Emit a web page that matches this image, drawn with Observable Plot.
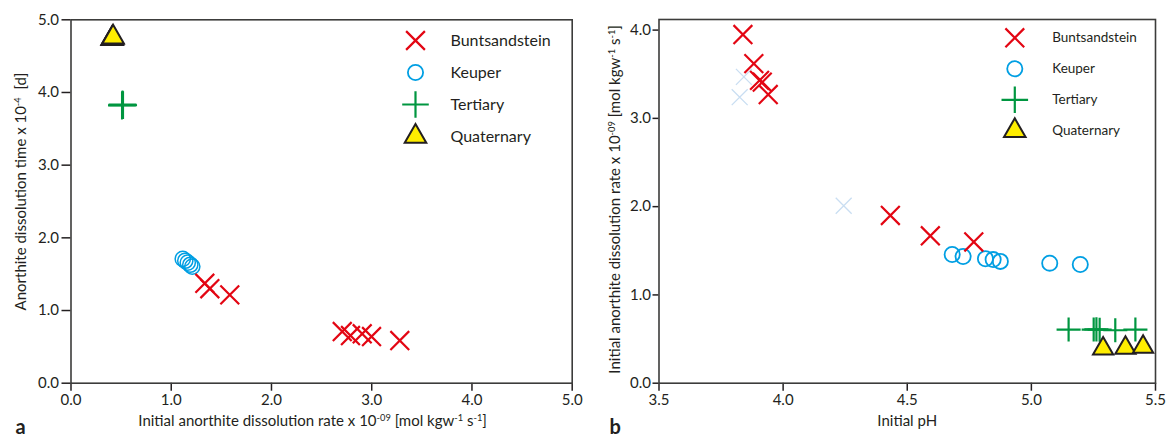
<!DOCTYPE html>
<html><head><meta charset="utf-8">
<script src="https://cdn.jsdelivr.net/npm/d3@7"></script>
<script src="https://cdn.jsdelivr.net/npm/@observablehq/plot@0.6"></script>
<style>
body{margin:0;background:#fff;}
#wrap{position:relative;width:1167px;height:439px;overflow:hidden;font-family:Lato, sans-serif;}
#a,#b{position:absolute;top:0;}
#a{left:0px}
#b{left:590px}
</style></head><body><div id="wrap"><div id="a"></div><div id="b"></div></div>
<script>
// ---------- Panel a data: initial rate (x) vs dissolution time (y) ----------
const buntRateA = [1.335, 1.385, 1.584, 2.706, 2.788, 2.905, 2.998, 3.28];
const buntTimeA = [1.375, 1.30, 1.216, 0.711, 0.656, 0.68, 0.642, 0.587];
const keupRateA = [1.115, 1.14, 1.165, 1.19, 1.21];
const keupTimeA = [1.71, 1.685, 1.66, 1.63, 1.605];
const tertRateA = [0.508, 0.514, 0.52, 0.512];
const tertTimeA = [3.82, 3.835, 3.825, 3.83];
const quatRateA = [0.41, 0.415, 0.42];
const quatTimeA = [4.74, 4.75, 4.76];

// ---------- Panel b data: initial pH (x) vs initial rate (y) ----------
const buntPhB   = [3.838, 3.882, 3.905, 3.916, 3.94, 4.432, 4.593, 4.768];
const buntRateB = [3.95, 3.62, 3.43, 3.41, 3.27, 1.90, 1.67, 1.60];
const fadedPhB   = [3.842, 3.825, 4.244];
const fadedRateB = [3.47, 3.24, 2.01];
const keupPhB   = [4.681, 4.725, 4.815, 4.846, 4.875, 5.074, 5.197];
const keupRateB = [1.458, 1.435, 1.41, 1.40, 1.38, 1.36, 1.345];
const tertPhB   = [5.15, 5.251, 5.262, 5.275, 5.338, 5.419];
const tertRateB = [0.608, 0.608, 0.61, 0.606, 0.60, 0.608];
const quatPhB   = [5.289, 5.379, 5.45];
const quatRateB = [0.39, 0.40, 0.41];

// ---------- ticks, labels, legend ----------
const ticksA = [0, 1, 2, 3, 4, 5];
const ticksBx = [3.5, 4.0, 4.5, 5.0, 5.5];
const ticksBy = [0, 1, 2, 3, 4];
const labelAx = "Initial anorthite dissolution rate x 10^{-09} [mol kgw^{-1} s^{-1}]";
const labelAy = "Anorthite dissolution time x 10^{-4}  [d]";
const labelBx = "Initial pH";
const labelBy = "Initial anorthite dissolution rate x 10^{-09} [mol kgw^{-1} s^{-1}]";
const legendNames = ["Buntsandstein", "Keuper", "Tertiary", "Quaternary"];

const RED = "#e30613", BLUE = "#009fe3", GREEN = "#009640", YELLOW = "#ffed00", INK = "#231f20", FADED = "#c9def2";
const FONT = "Lato, sans-serif";

const pts = (xs, ys) => xs.map((x, i) => ({x, y: ys[i]}));

const styleOf = {
  Buntsandstein: {symbol: "times", stroke: RED, fill: "none", strokeWidth: 2.2, r: 8.6},
  Keuper: {symbol: "circle", stroke: BLUE, fill: "none", strokeWidth: 1.8, r: 7.6},
  Tertiary: {symbol: "plus", stroke: GREEN, fill: "none", strokeWidth: 2.2, r: 8.6},
  Quaternary: {symbol: "triangle", stroke: INK, fill: YELLOW, strokeWidth: 2, r: 8}
};

function legendMarks(dxSym, dxText, dy0, step, fontSize) {
  return legendNames.flatMap((name, i) => {
    const s = styleOf[name];
    return [
      Plot.dot([name], {frameAnchor: "top-left", dx: dxSym, dy: dy0 + i * step, symbol: s.symbol,
        stroke: s.stroke, fill: s.fill, strokeWidth: s.strokeWidth, r: s.r}),
      Plot.text([name], {frameAnchor: "top-left", dx: dxText, dy: dy0 + i * step, textAnchor: "start",
        lineAnchor: "middle", fontSize, fill: INK})
    ];
  });
}

const fmt = d3.format(".1f");

const chartA = Plot.plot({
  width: 590, height: 439,
  marginLeft: 70.5, marginRight: 18.3, marginTop: 19.3, marginBottom: 56.3,
  style: {fontFamily: FONT, fontSize: "15px", color: INK, background: "white", overflow: "visible"},
  x: {domain: [0, 5]},
  y: {domain: [0, 5]},
  marks: [
    Plot.axisX({ticks: ticksA, tickFormat: fmt, tickSize: 8, tickPadding: 3, label: null, strokeWidth: 1.5, fontSize: 15}),
    Plot.axisY({ticks: ticksA, tickFormat: fmt, tickSize: 9, tickPadding: 3, label: null, strokeWidth: 1.5, fontSize: 15}),
    Plot.frame({stroke: "#3c3c3b", strokeWidth: 1.6}),
    Plot.dot(pts(quatRateA, quatTimeA), {x: "x", y: "y", ...styleOf.Quaternary}),
    Plot.dot(pts(tertRateA, tertTimeA), {x: "x", y: "y", ...styleOf.Tertiary, strokeWidth: 1.9, r: 9}),
    Plot.dot(pts(keupRateA, keupTimeA), {x: "x", y: "y", ...styleOf.Keuper, strokeWidth: 1.5}),
    Plot.dot(pts(buntRateA, buntTimeA), {x: "x", y: "y", ...styleOf.Buntsandstein}),
    ...legendMarks(344.5, 379.5, 20.7, 32, 16),
    Plot.text([labelAx], {frameAnchor: "bottom", lineAnchor: "middle", textAnchor: "middle", dx: -9, dy: 38, fontSize: 15, fill: INK}),
    Plot.text([labelAy], {frameAnchor: "left", lineAnchor: "middle", textAnchor: "middle", rotate: -90, dx: -50, dy: -10, fontSize: 15, fill: INK}),
    Plot.text(["a"], {frameAnchor: "bottom-left", lineAnchor: "middle", textAnchor: "start", dx: -55.5, dy: 44, fontSize: 20, fontWeight: "bold", fill: INK})
  ]
});

const chartB = Plot.plot({
  width: 577, height: 439,
  marginLeft: 68.5, marginRight: 12, marginTop: 19, marginBottom: 56.3,
  style: {fontFamily: FONT, fontSize: "15px", color: INK, background: "white", overflow: "visible"},
  x: {domain: [3.5, 5.5]},
  y: {domain: [0, 4.12]},
  marks: [
    Plot.axisX({ticks: ticksBx, tickFormat: fmt, tickSize: 8, tickPadding: 3, label: null, strokeWidth: 1.5, fontSize: 15}),
    Plot.axisY({ticks: ticksBy, tickFormat: fmt, tickSize: 6, tickPadding: 2, label: null, strokeWidth: 1.5, fontSize: 15}),
    Plot.frame({stroke: "#3c3c3b", strokeWidth: 1.6}),
    Plot.dot(pts(fadedPhB, fadedRateB), {x: "x", y: "y", symbol: "times", stroke: FADED, strokeWidth: 1.3, r: 7.3}),
    Plot.dot(pts(keupPhB, keupRateB), {x: "x", y: "y", ...styleOf.Keuper}),
    Plot.dot(pts(tertPhB, tertRateB), {x: "x", y: "y", ...styleOf.Tertiary, r: 7.8}),
    Plot.dot(pts(quatPhB, quatRateB), {x: "x", y: "y", ...styleOf.Quaternary, r: 7.5}),
    Plot.dot(pts(buntPhB, buntRateB), {x: "x", y: "y", ...styleOf.Buntsandstein}),
    ...legendMarks(355.8, 393.2, 18.3, 31, 13.5),
    Plot.text([labelBx], {frameAnchor: "bottom", lineAnchor: "middle", textAnchor: "middle", dy: 38, fontSize: 15, fill: INK}),
    Plot.text([labelBy], {frameAnchor: "left", lineAnchor: "middle", textAnchor: "middle", rotate: -90, dx: -44, dy: -2, fontSize: 15, fill: INK}),
    Plot.text(["b"], {frameAnchor: "bottom-left", lineAnchor: "middle", textAnchor: "start", dx: -49.5, dy: 44, fontSize: 20, fontWeight: "bold", fill: INK})
  ]
});

// turn ^{...} markers into real superscript tspans
function superscriptify(svg) {
  const ns = "http://www.w3.org/2000/svg";
  svg.querySelectorAll("text").forEach(t => {
    const s = t.textContent;
    if (!s.includes("^{")) return;
    while (t.firstChild) t.removeChild(t.firstChild);
    const re = /\^\{([^}]*)\}/g;
    let last = 0, m;
    const add = (txt, sup) => {
      const sp = document.createElementNS(ns, "tspan");
      sp.textContent = txt;
      if (sup) { sp.setAttribute("baseline-shift", "super"); sp.setAttribute("font-size", "0.62em"); }
      t.appendChild(sp);
    };
    while ((m = re.exec(s))) {
      if (m.index > last) add(s.slice(last, m.index), false);
      add(m[1], true);
      last = re.lastIndex;
    }
    if (last < s.length) add(s.slice(last), false);
  });
}
superscriptify(chartA);
superscriptify(chartB);

document.getElementById("a").appendChild(chartA);
document.getElementById("b").appendChild(chartB);
</script></body></html>
